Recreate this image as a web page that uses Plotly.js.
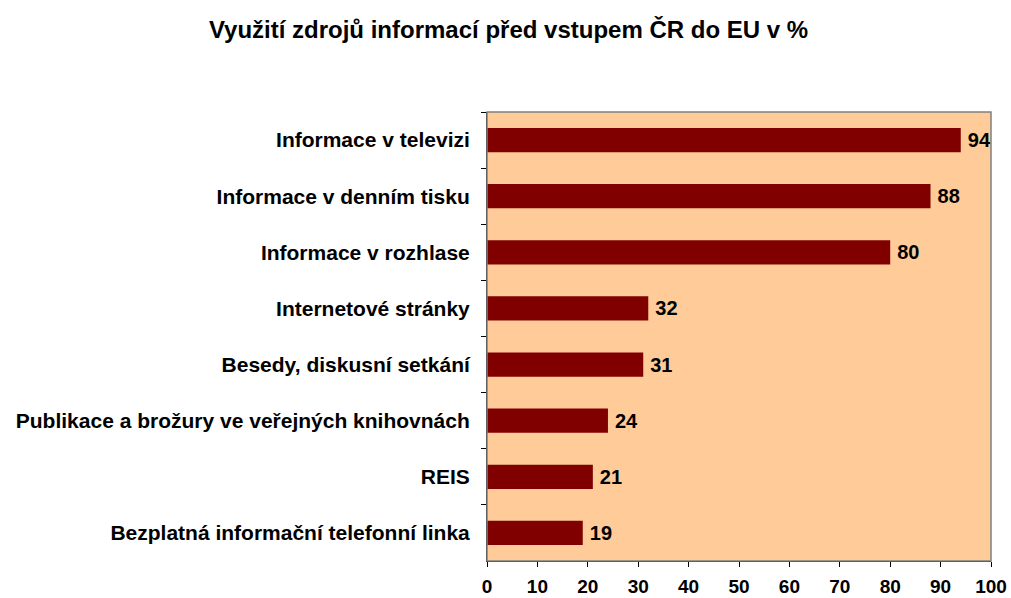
<!DOCTYPE html>
<html>
<head>
<meta charset="utf-8">
<script src="https://cdn.plot.ly/plotly-3.0.1.min.js"></script>
<style>html,body{margin:0;padding:0;background:#fff;}#chart{width:1011px;height:598px;}</style>
</head>
<body>
<div id="chart"></div>
<script>
const categories = [
  "Informace v televizi",
  "Informace v denním tisku",
  "Informace v rozhlase",
  "Internetové stránky",
  "Besedy, diskusní setkání",
  "Publikace a brožury ve veřejných knihovnách",
  "REIS",
  "Bezplatná informační telefonní linka"
];
const values = [94, 88, 80, 32, 31, 24, 21, 19];
const xTicks = [0, 10, 20, 30, 40, 50, 60, 70, 80, 90, 100];
const chartTitle = "Využití zdrojů informací před vstupem ČR do EU v %";

const font = "Arial, 'Liberation Sans', sans-serif";
Plotly.newPlot('chart', [{
  type: 'bar',
  orientation: 'h',
  y: categories,
  x: values,
  marker: {color: '#800000', line: {width: 0}},
  text: values.map(v => '\u2009' + v),
  textposition: 'outside',
  cliponaxis: false,
  textfont: {family: font, size: 20, color: '#000', weight: 'bold'},
  hoverinfo: 'none'
}], {
  width: 1011, height: 598,
  margin: {l: 487, r: 20, t: 112, b: 37},
  paper_bgcolor: '#ffffff',
  plot_bgcolor: '#FFCC99',
  bargap: 0.57,
  showlegend: false,
  title: {text: chartTitle, x: 0.503, xanchor: 'center', y: 0.95, yanchor: 'middle',
          font: {family: font, size: 24, color: '#000', weight: 'bold'}},
  xaxis: {
    range: [0, 100], tickvals: xTicks, ticktext: xTicks.map(String),
    ticks: 'outside', ticklen: 5, tickcolor: '#000', tickwidth: 1,
    showgrid: false, zeroline: false, showline: true, linecolor: '#000', linewidth: 1,
    tickfont: {family: font, size: 19, color: '#000', weight: 'bold'}, ticklabelstandoff: 3, fixedrange: true
  },
  yaxis: {
    type: 'category', autorange: 'reversed',
    ticks: 'outside', ticklen: 5, tickcolor: '#000', tickson: 'boundaries',
    showgrid: false, zeroline: false, showline: true, linecolor: '#000', linewidth: 1,
    tickfont: {family: font, size: 21, color: '#000', weight: 'bold'}, ticklabelstandoff: 12, fixedrange: true
  },
  shapes: [{type: 'rect', xref: 'paper', yref: 'paper', x0: 0, x1: 1, y0: 0, y1: 1,
            line: {color: '#808080', width: 1.5}, fillcolor: 'rgba(0,0,0,0)', layer: 'above'}]
}, {displayModeBar: false, staticPlot: true});
</script>
</body>
</html>
